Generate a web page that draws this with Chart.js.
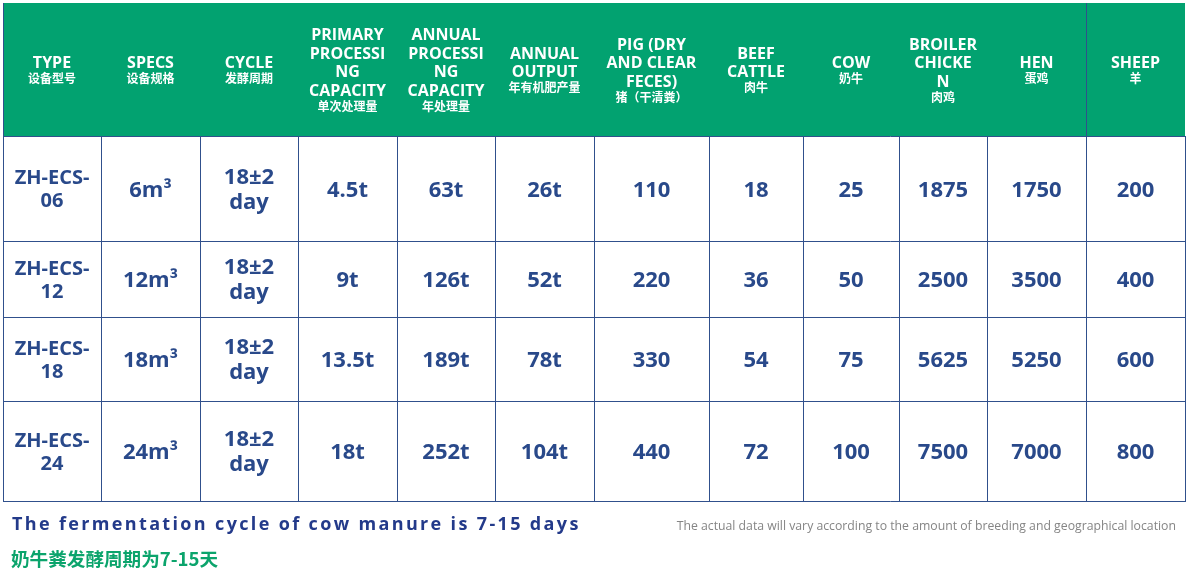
<!DOCTYPE html>
<html>
<head>
<meta charset="utf-8">
<script src="https://cdn.jsdelivr.net/npm/chart.js@4"></script>
<style>
html,body{margin:0;padding:0;background:#ffffff;}
#c{display:block;}
</style>
</head>
<body>
<canvas id="c" width="1188" height="574" style="width:1188px;height:574px"></canvas>
<script>
// ---- data ----
const headersEn = [
  ["TYPE"], ["SPECS"], ["CYCLE"],
  ["PRIMARY", "PROCESSI", "NG", "CAPACITY"],
  ["ANNUAL", "PROCESSI", "NG", "CAPACITY"],
  ["ANNUAL", "OUTPUT"],
  ["PIG (DRY", "AND CLEAR", "FECES)"],
  ["BEEF", "CATTLE"], ["COW"],
  ["BROILER", "CHICKE", "N"],
  ["HEN"], ["SHEEP"]
];
const headersZh = ["设备型号", "设备规格", "发酵周期", "单次处理量", "年处理量", "年有机肥产量",
  "猪（干清粪）", "肉牛", "奶牛", "肉鸡", "蛋鸡", "羊"];
const models = [["ZH-ECS-", "06"], ["ZH-ECS-", "12"], ["ZH-ECS-", "18"], ["ZH-ECS-", "24"]];
const specs = ["6m³", "12m³", "18m³", "24m³"];
const cycles = [["18±2", "day"], ["18±2", "day"], ["18±2", "day"], ["18±2", "day"]];
const primaryCapacity = ["4.5t", "9t", "13.5t", "18t"];
const annualCapacity = ["63t", "126t", "189t", "252t"];
const annualOutput = ["26t", "52t", "78t", "104t"];
const pig = [110, 220, 330, 440];
const beefCattle = [18, 36, 54, 72];
const cow = [25, 50, 75, 100];
const broiler = [1875, 2500, 5625, 7500];
const hen = [1750, 3500, 5250, 7000];
const sheep = [200, 400, 600, 800];
const noteEn = "The fermentation cycle of cow manure is 7-15 days";
const noteZh = "奶牛粪发酵周期为7-15天";
const noteGray = "The actual data will vary according to the amount of breeding and geographical location";

// ---- layout (sizes, not data) ----
const W = 1188, H = 574;
const tableLeft = 3, tableTop = 3;
const colWidths = [98, 99, 98, 99, 98, 99, 115, 94, 96, 88, 99, 99];
const headerHeight = 133;
const rowHeights = [105, 76, 84, 100];

const NAVY = "#29498a";
const BORDER = "#30508c";
const GREEN = "#02a270";
const EN = "'Open Sans', 'Noto Sans CJK SC', sans-serif";
const ZH = "'Noto Sans CJK SC', 'Open Sans', sans-serif";

const columns = [models, specs, cycles, primaryCapacity, annualCapacity, annualOutput,
  pig, beefCattle, cow, broiler, hen, sheep];

const tablePlugin = {
  id: "tablePlugin",
  afterDraw(chart) {
    const ctx = chart.ctx;
    const xs = chart.scales.x, ys = chart.scales.y;
    const X = v => xs.getPixelForValue(v);
    const Y = v => ys.getPixelForValue(v);
    const colEdges = [tableLeft];
    colWidths.forEach(w => colEdges.push(colEdges[colEdges.length - 1] + w));
    const rowEdges = [tableTop, tableTop + headerHeight];
    rowHeights.forEach(h => rowEdges.push(rowEdges[rowEdges.length - 1] + h));
    const right = colEdges[colEdges.length - 1];
    const bottom = rowEdges[rowEdges.length - 1];

    ctx.save();
    // header background
    ctx.fillStyle = GREEN;
    ctx.fillRect(X(tableLeft), Y(tableTop), X(right) - X(tableLeft), Y(rowEdges[1]) - Y(tableTop));

    // grid lines
    ctx.strokeStyle = BORDER;
    ctx.lineWidth = 1;
    ctx.beginPath();
    for (let r = 1; r < rowEdges.length; r++) {
      const yy = Math.round(Y(rowEdges[r])) + 0.5;
      ctx.moveTo(X(tableLeft), yy); ctx.lineTo(X(right) + 1, yy);
    }
    for (let c = 0; c < colEdges.length; c++) {
      const xx = Math.round(X(colEdges[c])) + 0.5;
      const top = (c === 0 || c === 11) ? Y(tableTop) : Y(rowEdges[1]);
      ctx.moveTo(xx, top); ctx.lineTo(xx, Y(bottom) + 1);
    }
    ctx.stroke();

    // header text
    ctx.textAlign = "center";
    ctx.textBaseline = "alphabetic";
    ctx.fillStyle = "#ffffff";
    const hc = (Y(rowEdges[0]) + Y(rowEdges[1])) / 2;
    const enStep = 18.5, zhStep = 17;
    headersEn.forEach((lines, i) => {
      const cx = (X(colEdges[i]) + X(colEdges[i + 1])) / 2;
      const total = (lines.length - 1) * enStep + zhStep;
      let y0 = hc - total / 2;
      ctx.font = "bold 16px " + EN;
      lines.forEach((t, k) => ctx.fillText(t, cx, y0 + k * enStep + 7));
      ctx.font = "bold 12px " + ZH;
      ctx.fillText(headersZh[i], cx, y0 + (lines.length - 1) * enStep + zhStep + 5);
    });

    // body text
    ctx.fillStyle = NAVY;
    columns.forEach((col, c) => {
      const cx = (X(colEdges[c]) + X(colEdges[c + 1])) / 2;
      col.forEach((val, r) => {
        const cy = (Y(rowEdges[r + 1]) + Y(rowEdges[r + 2])) / 2;
        if (Array.isArray(val)) {
          const size = c === 0 ? 20 : 22;
          const step = c === 0 ? 23 : 25;
          ctx.font = "bold " + size + "px " + EN;
          ctx.fillText(val[0], cx, cy - step / 2 + size * 0.36);
          ctx.fillText(val[1], cx, cy + step / 2 + size * 0.36);
        } else {
          ctx.font = "bold 22px " + EN;
          ctx.fillText(String(val), cx, cy + 8);
        }
      });
    });

    // footnotes
    ctx.textAlign = "left";
    ctx.fillStyle = "#233a8a";
    ctx.font = "bold 18px " + EN;
    ctx.letterSpacing = "2.35px";
    ctx.fillText(noteEn, X(12), Y(530));
    ctx.letterSpacing = "0px";
    ctx.fillStyle = "#0ba46c";
    ctx.font = "bold 18.6px " + ZH;
    ctx.fillText(noteZh, X(11), Y(566));
    ctx.fillStyle = "#858585";
    ctx.font = "12.25px " + EN;
    ctx.textAlign = "right";
    ctx.fillText(noteGray, X(1176), Y(530));
    ctx.restore();
  }
};

new Chart(document.getElementById("c"), {
  type: "scatter",
  data: { datasets: [] },
  options: {
    responsive: false,
    animation: false,
    events: [],
    layout: { padding: 0 },
    plugins: { legend: { display: false }, tooltip: { enabled: false } },
    scales: {
      x: { type: "linear", min: 0, max: W, display: false },
      y: { type: "linear", min: 0, max: H, reverse: true, display: false }
    }
  },
  plugins: [tablePlugin]
});
</script>
</body>
</html>
